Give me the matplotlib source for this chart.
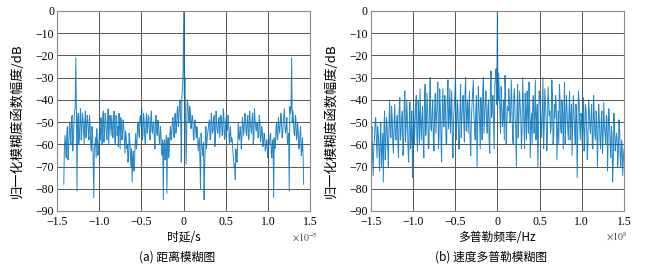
import numpy as np
import matplotlib.pyplot as plt

# (a) range ambiguity, delay in units of 1e-5 s
delay_start, delay_end = -1.42, 1.42
range_db = [
    -78, -56, -66, -52, -64, -50, -60, -47, -58, -45,
    -21, -81, -46, -57, -44, -55, -48, -60, -45, -53,
    -49, -58, -52, -63, -55, -84, -60, -66, -58, -62,
    -53, -48, -60, -45, -55, -49, -58, -44, -54, -50,
    -47, -57, -45, -60, -48, -52, -46, -62, -50, -55,
    -52, -64, -56, -60, -66, -58, -70, -77, -63, -68,
    -55, -60, -50, -57, -47, -44, -56, -49, -60, -46,
    -53, -48, -58, -45, -55, -50, -62, -47, -56, -52,
    -60, -55, -65, -85, -58, -64, -82, -57, -62, -52,
    -55, -48, -57, -46, -52, -43, -48, -40, -68, -35,
    0,
    -30, -69, -40, -47, -43, -53, -47, -56, -50, -54,
    -52, -63, -57, -80, -60, -65, -85, -58, -62, -55,
    -50, -58, -46, -55, -48, -61, -45, -54, -49, -57,
    -47, -56, -44, -58, -50, -54, -47, -60, -52, -57,
    -63, -70, -76, -66, -60, -57, -52, -62, -48, -56,
    -46, -55, -49, -58, -45, -53, -48, -60, -44, -52,
    -50, -57, -47, -59, -52, -61, -55, -63, -58, -66,
    -60, -56, -64, -58, -84, -62, -52, -58, -48, -55,
    -46, -57, -50, -44, -55, -48, -58, -81, -46, -21,
    -45, -55, -47, -58, -50, -62, -55, -65, -57, -78,
]
# samples read between the ones above
range_db_mid = [
    -62, -60, -55, -67, -53, -58, -48, -63, -50, -44,
    -43, -50, -60, -48, -58, -46, -54, -50, -57, -47,
    -55, -47, -60, -52, -67, -62, -57, -53, -65, -57,
    -58, -52, -47, -59, -46, -55, -50, -60, -47, -56,
    -53, -49, -58, -47, -56, -61, -51, -48, -58, -49,
    -58, -54, -62, -68, -55, -64, -62, -66, -72, -60,
    -62, -52, -55, -48, -52, -58, -46, -57, -50, -55,
    -47, -56, -49, -54, -50, -57, -48, -55, -49, -58,
    -52, -62, -58, -60, -67, -56, -60, -66, -55, -58,
    -50, -54, -47, -55, -45, -52, -42, -50, -38, -27,
    -38, -45, -55, -42, -50, -45, -51, -48, -58, -49,
    -57, -55, -60, -66, -55, -62, -59, -70, -52, -58,
    -53, -49, -57, -50, -54, -47, -56, -51, -55, -48,
    -52, -49, -55, -47, -57, -48, -53, -50, -56, -59,
    -58, -66, -69, -62, -68, -50, -58, -53, -57, -51,
    -52, -48, -56, -47, -57, -50, -55, -46, -57, -49,
    -54, -51, -56, -50, -57, -54, -60, -56, -62, -58,
    -64, -60, -55, -66, -58, -57, -60, -50, -57, -52,
    -51, -49, -56, -47, -53, -52, -60, -55, -43, -44,
    -50, -49, -56, -48, -57, -54, -60, -52, -63, -64,
]

# (b) Doppler ambiguity, frequency in units of 1e8 Hz
freq_start, freq_end = -1.5, 1.5
doppler_db = [
    -68, -52, -74, -58, -48, -66, -55, -72, -50, -62,
    -77, -45, -60, -52, -70, -40, -57, -48, -64, -42,
    -58, -47, -66, -39, -55, -45, -62, -36, -53, -48,
    -68, -41, -57, -75, -44, -52, -38, -63, -46, -35,
    -58, -43, -66, -33, -50, -45, -61, -30, -54, -40,
    -63, -37, -48, -32, -57, -44, -68, -35, -52, -42,
    -60, -31, -47, -55, -36, -66, -43, -29, -51, -45,
    -62, -33, -48, -38, -59, -30, -46, -55, -36, -65,
    -42, -31, -52, -45, -70, -34, -49, -39, -58, -30,
    -47, -36, -55, -40, -64, -27, -44, -50, -33, -26,
    0,
    -28, -45, -34, -52, -40, -29, -60, -43, -35, -50,
    -31, -56, -38, -47, -70, -33, -48, -42, -62, -30,
    -51, -37, -58, -44, -32, -66, -46, -39, -55, -31,
    -49, -70, -36, -43, -57, -30, -52, -41, -63, -34,
    -47, -55, -31, -60, -42, -38, -67, -45, -33, -53,
    -40, -62, -32, -50, -44, -58, -36, -48, -65, -38,
    -54, -42, -75, -36, -51, -46, -60, -39, -57, -44,
    -67, -40, -52, -47, -61, -38, -56, -45, -70, -42,
    -58, -49, -64, -41, -55, -47, -72, -44, -60, -52,
    -77, -46, -63, -55, -70, -49, -66, -58, -74, -62,
]
doppler_db_mid = [
    -58, -65, -60, -50, -58, -52, -62, -57, -70, -55,
    -52, -67, -48, -62, -50, -55, -43, -60, -50, -56,
    -50, -60, -45, -58, -48, -65, -42, -59, -40, -62,
    -50, -62, -45, -55, -60, -42, -57, -40, -60, -50,
    -48, -60, -40, -56, -37, -62, -42, -53, -45, -58,
    -45, -55, -40, -62, -35, -58, -46, -52, -38, -60,
    -40, -53, -35, -46, -60, -48, -37, -58, -40, -62,
    -45, -57, -42, -50, -36, -54, -40, -44, -58, -48,
    -36, -47, -58, -38, -52, -43, -62, -46, -35, -55,
    -40, -50, -44, -58, -35, -48, -38, -62, -30, -42,
    -40, -36, -55, -42, -48, -58, -37, -50, -45, -40,
    -47, -42, -60, -35, -52, -44, -57, -36, -48, -55,
    -40, -62, -45, -36, -55, -42, -50, -60, -38, -47,
    -58, -42, -55, -38, -50, -44, -62, -35, -48, -57,
    -40, -45, -52, -38, -57, -48, -42, -55, -60, -40,
    -55, -45, -48, -60, -38, -52, -46, -58, -42, -50,
    -46, -60, -45, -55, -40, -58, -48, -52, -63, -42,
    -53, -60, -44, -55, -42, -62, -46, -58, -50, -57,
    -48, -62, -45, -57, -52, -60, -48, -56, -50, -66,
    -55, -68, -52, -60, -57, -64, -53, -70, -60, -66,
]

x_ticks = [-1.5, -1.0, -0.5, 0, 0.5, 1.0, 1.5]
x_labels = ['\u22121.5', '\u22121.0', '\u22120.5', '0', '0.5', '1.0', '1.5']
y_ticks = [0, -10, -20, -30, -40, -50, -60, -70, -80, -90]
y_labels = ['0'] + ['\u2212' + str(-v) for v in y_ticks[1:]]

plt.rcParams['font.family'] = ['Liberation Serif', 'Noto Sans CJK SC']
plt.rcParams['mathtext.fontset'] = 'stix'
cjk = ['Noto Sans CJK SC', 'Liberation Serif']
line_color = '#0072BD'

fig = plt.figure(figsize=(6.48, 2.68), dpi=100)

panels = [
    (0.088, range_db, range_db_mid, delay_start, delay_end,
     '时延/s', '(a) 距离模糊图', r'$\times10^{-5}$', 0.470),
    (0.572, doppler_db, doppler_db_mid, freq_start, freq_end,
     '多普勒频率/Hz', '(b) 速度多普勒模糊图', r'$\times10^{8}$', 0.952),
]

for left, main, mid, x0, x1, xlab, cap, mult, mult_x in panels:
    ax = fig.add_axes([left, 0.2127, 0.391, 0.7463])
    vals = np.empty(len(main) + len(mid))
    vals[0::2] = main
    vals[1::2] = mid
    x = np.linspace(x0, x1, len(vals))
    ax.plot(x, vals, color=line_color, lw=0.7, alpha=0.85)
    ax.set_xlim(-1.5, 1.5)
    ax.set_ylim(-90, 0)
    ax.set_xticks(x_ticks)
    ax.set_xticklabels(x_labels, fontsize=8.5)
    ax.set_yticks(y_ticks)
    ax.set_yticklabels(y_labels, fontsize=8.5)
    ax.grid(True, color='#555555', lw=0.7)
    ax.tick_params(axis='x', length=2, width=0.6, color='#555555', pad=3.5, direction='in')
    ax.tick_params(axis='y', length=2, width=0.6, color='#555555', pad=2, direction='in')
    for s in ax.spines.values():
        s.set_color('#888888')
        s.set_linewidth(0.8)
    ax.set_ylabel('归一化模糊度函数幅度/dB', family=cjk, fontsize=9.5, labelpad=1)
    ax.yaxis.set_label_coords(-0.13, 0.45)
    cx = left + 0.391 / 2
    fig.text(cx, 0.112, xlab, family=cjk, fontsize=8.5, ha='center', va='center')
    fig.text(cx - 0.01, 0.042, cap, family=cjk, fontsize=8.5, ha='center', va='center')
    fig.text(mult_x, 0.115, mult, fontsize=7, ha='center', va='center', color='#444444')

fig.savefig('out.png', dpi=100)
